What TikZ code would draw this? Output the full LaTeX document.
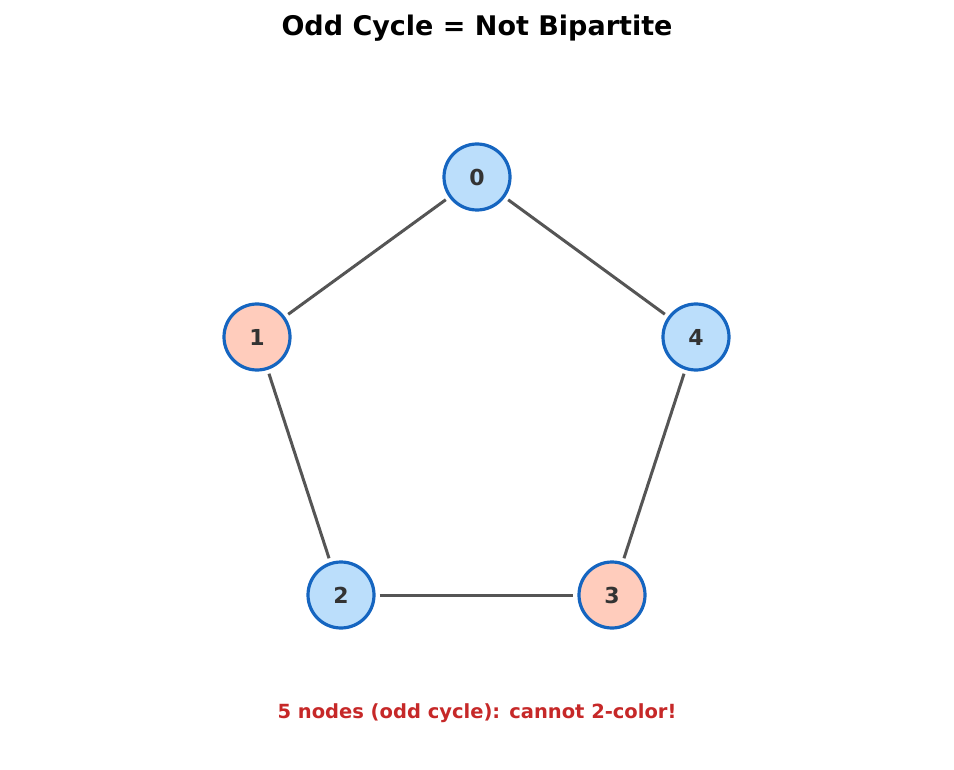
\documentclass[tikz,border=0pt]{standalone}
\usepackage{fontspec}
\setmainfont{DejaVu Sans}
\definecolor{edgec}{HTML}{555555}
\definecolor{bord}{HTML}{1565C0}
\definecolor{blu}{HTML}{BBDEFB}
\definecolor{sal}{HTML}{FFCCBC}
\definecolor{txt}{HTML}{333333}
\definecolor{redt}{HTML}{C62828}
\begin{document}
\begin{tikzpicture}[x=1pt,y=-1pt,
  v/.style={circle,draw=bord,line width=3.2pt,minimum size=66pt,inner sep=0pt,font=\fontsize{22}{26}\selectfont\bfseries,text=txt},
  e/.style={draw=edgec,line width=3pt,shorten >=4pt,shorten <=4pt}]
\useasboundingbox (0,0) rectangle (954,770);
\node[font=\fontsize{27}{32}\selectfont\bfseries] (title) at (477,28) {Odd Cycle = Not Bipartite};
\node[v,fill=blu] (n0) at (477,177) {0};
\node[v,fill=sal] (n1) at (257,337) {1};
\node[v,fill=blu] (n4) at (696,337) {4};
\node[v,fill=blu] (n2) at (341,595) {2};
\node[v,fill=sal] (n3) at (612,595) {3};
\draw[e] (n0) -- (n1);
\draw[e] (n0) -- (n4);
\draw[e] (n1) -- (n2);
\draw[e] (n2) -- (n3);
\draw[e] (n4) -- (n3);
\node[font=\fontsize{19.5}{24}\selectfont\bfseries,text=redt] (foot) at (477,713) {5 nodes (odd cycle): cannot 2-color!};
\end{tikzpicture}
\end{document}
